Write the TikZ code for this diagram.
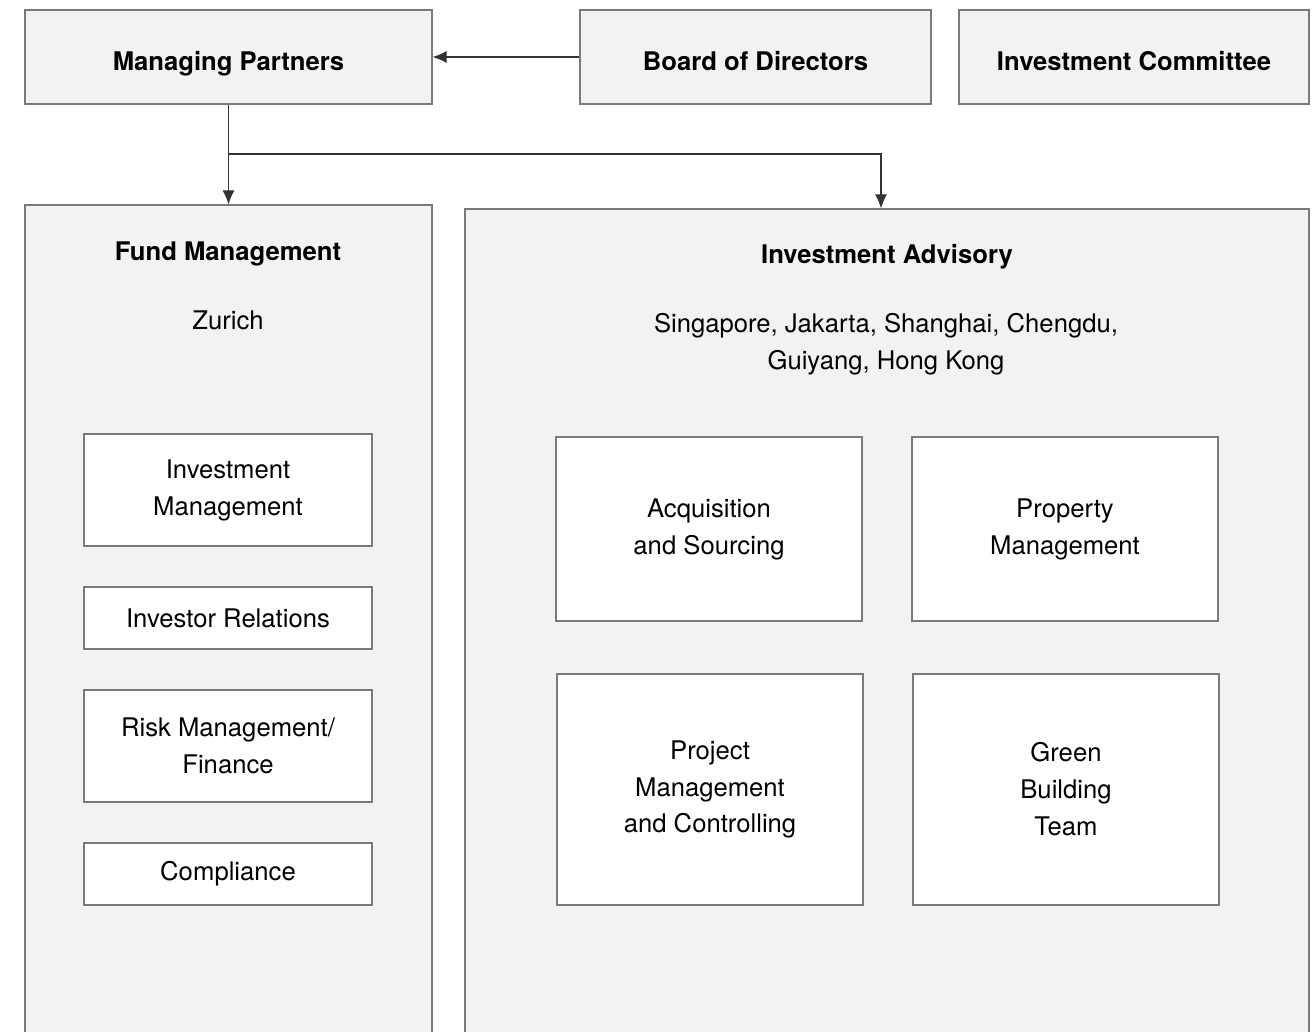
\documentclass[tikz,border=0pt]{standalone}
\usepackage{fontspec}
\setmainfont{TeX Gyre Heros}
\usepackage{tikz}
\usepackage{xcolor}
\usetikzlibrary{arrows.meta}

\definecolor{boxgray}{HTML}{F2F2F2}
\definecolor{linegray}{HTML}{7A7A7A}

\begin{document}
\begin{tikzpicture}[every node/.style={font=\fontsize{14.6}{21}\selectfont, align=center},
            grey box/.style={draw=linegray, line width=0.7pt, fill=boxgray, inner sep=0pt},
            head/.style={grey box, minimum height=1.88cm, text height=15pt, text depth=0pt},
            unit/.style={draw=linegray, line width=0.7pt, fill=white, minimum width=5.76cm, inner sep=0pt},
            office/.style={draw=linegray, line width=0.7pt, fill=white, minimum width=6.12cm, inner sep=0pt},
            link/.style={draw=black!80, line width=0.6pt, -{Latex[length=0.28cm,width=0.24cm]}}]
            \useasboundingbox (0,0) rectangle (26.26,-20.64);
            \clip (0,0) rectangle (26.26,-20.64);

            % top row
            \node[head, minimum width=8.14cm] (mp) at (4.57,-1.14) {\textbf{Managing Partners}};
            \node[head, minimum width=7.02cm] (bd) at (15.11,-1.14) {\textbf{Board of Directors}};
            \node[head, minimum width=7.00cm] (ic) at (22.68,-1.14) {\textbf{Investment Committee}};

            % the two big blocks run past the lower edge
            \node[grey box, minimum width=8.14cm, minimum height=17.1cm] (fm) at (4.57,-12.65) {};
            \node[grey box, minimum width=16.88cm, minimum height=17.02cm] (ia) at (17.74,-12.69) {};

            \node (fmtitle) at (4.56,-5.08) {\textbf{Fund Management}};
            \node (fmcity) at (4.56,-6.40) {Zurich};
            \node (iatitle) at (17.74,-5.14) {\textbf{Investment Advisory}};
            \node (iacity) at (17.72,-6.88) {Singapore, Jakarta, Shanghai, Chengdu,\\Guiyang, Hong Kong};

            % fund management units
            \node[unit, minimum height=2.24cm] (im) at (4.56,-9.80) {Investment\\Management};
            \node[unit, minimum height=1.24cm] (ir) at (4.56,-12.36) {Investor Relations};
            \node[unit, minimum height=2.24cm] (rm) at (4.56,-14.92) {Risk Management/\\Finance};
            \node[unit, minimum height=1.24cm] (co) at (4.56,-17.48) {Compliance};

            % advisory teams
            \node[office, minimum height=3.68cm] (acq) at (14.18,-10.58) {Acquisition\\and Sourcing};
            \node[office, minimum height=3.68cm] (prm) at (21.30,-10.58) {Property\\Management};
            \node[office, minimum height=4.62cm] (pjm) at (14.20,-15.79) {Project\\Management\\and Controlling};
            \node[office, minimum height=4.62cm] (gbt) at (21.32,-15.79) {Green\\Building\\Team};

            \coordinate (split) at (4.57,-3.08);
            \draw[link] (bd) -- (mp);
            \draw[link] (mp.south) -- (fm.north);
            \draw[link] (split) -| ([xshift=-0.12cm]ia.north);
        \end{tikzpicture}
\end{document}
